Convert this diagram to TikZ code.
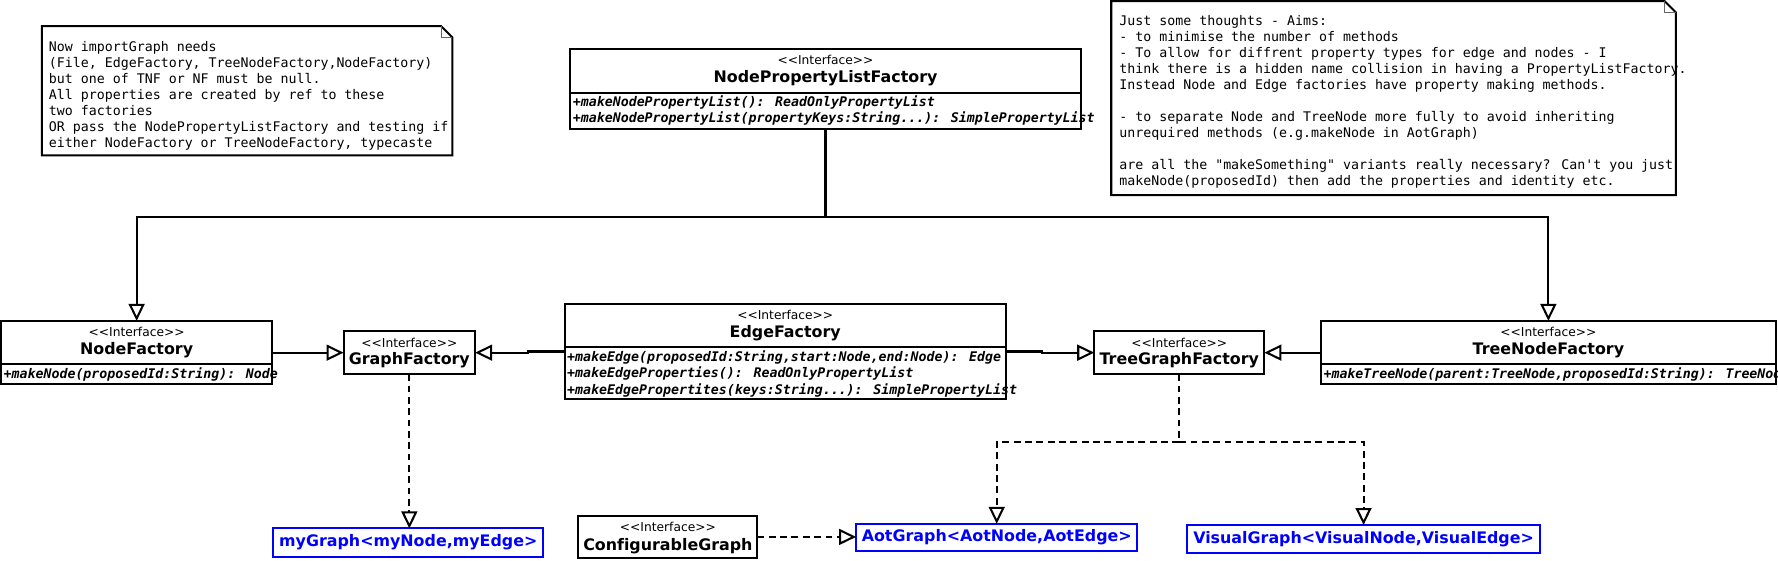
\documentclass[tikz,border=0pt]{standalone}
\usepackage{fontspec}
\usetikzlibrary{arrows.meta}
\newfontfamily\umlmono[Ligatures=TeXOff]{DejaVu Sans Mono}
\newfontfamily\umlsans[Ligatures={TeXOff,CommonOff}]{DejaVu Sans}
\definecolor{umlblue}{RGB}{0,0,255}
\tikzset{
  box/.style={draw, line width=1.8pt, outer sep=0pt, inner sep=0pt, anchor=north west},
  bluebox/.style={box, draw=umlblue, text=umlblue, anchor=north west, font=\umlsans\bfseries\fontsize{14}{16}\selectfont},
  stereo/.style={inner sep=0pt, font=\umlsans\fontsize{10.8}{12}\selectfont},
  cname/.style={inner sep=0pt, font=\umlsans\bfseries\fontsize{14}{16}\selectfont},
  meth/.style={inner sep=0pt, anchor=base west, font=\umlmono\bfseries\itshape\fontsize{11.7}{14}\selectfont},
  notetext/.style={inner sep=0pt, anchor=north west, align=left, font=\umlmono\fontsize{11.7}{14.1}\selectfont},
  sepline/.style={line width=1.8pt},
  conn/.style={line width=1.8pt},
  dconn/.style={conn, dash pattern=on 6pt off 4pt},
  tri/.style={-{Triangle[open,length=15pt,width=14pt,fill=white]}},
  notebody/.style={draw, line width=1.8pt, fill=white},
  fold/.style={draw, line width=0.9pt, draw=black!60},
}
\begin{document}
\begin{tikzpicture}[x=1pt,y=-1pt]
\useasboundingbox (0,0) rectangle (1568,494);
\clip (0,0) rectangle (1568,494);
\fill[white] (0,0) rectangle (1568,494);

% ---------- note 1 ----------
\path[notebody] (37,23) -- (389,23) -- (399,33) -- (399,137) -- (37,137) -- cycle;
\path[fold] (389,23) -- (389,33) -- (399,33);
\node[notetext] (note1) at (43,35) {\rule{0pt}{10pt}Now importGraph needs\\
(File, EdgeFactory, TreeNodeFactory,NodeFactory)\\
but one of TNF or NF must be null.\\
All properties are created by ref to these\\
two factories\\
OR pass the NodePropertyListFactory and testing if\\
either NodeFactory or TreeNodeFactory, typecaste};

% ---------- note 2 ----------
\path[notebody] (980,1) -- (1468,1) -- (1478,11) -- (1478,172) -- (980,172) -- cycle;
\path[fold] (1468,1) -- (1468,11) -- (1478,11);
\node[notetext] (note2) at (987,12) {\rule{0pt}{10pt}Just some thoughts - Aims:\\
- to minimise the number of methods\\
- To allow for diffrent property types for edge and nodes - I\\
think there is a hidden name collision in having a PropertyListFactory.\\
Instead Node and Edge factories have property making methods.\\
\mbox{}\\
- to separate Node and TreeNode more fully to avoid inheriting\\
unrequired methods (e.g.makeNode in AotGraph)\\
\mbox{}\\
are all the \textquotedbl makeSomething\textquotedbl{} variants really necessary? Can\textquotesingle t you just\\
makeNode(proposedId) then add the properties and identity etc.};

% ---------- NodePropertyListFactory ----------
\node[box, minimum width=450pt, minimum height=71pt] (nplf) at (503,43) {};
\node[stereo] (nplfs) at (728,53) {<<Interface>>};
\node[cname] (nplfn) at (728,69) {NodePropertyListFactory};
\draw[sepline] (503,82) -- (953,82);
\node[meth] (nplfm1) at (505,94) {+makeNodePropertyList(): ReadOnlyPropertyList};
\node[meth] (nplfm2) at (505,108) {+makeNodePropertyList(propertyKeys:String...): SimplePropertyList};

% ---------- NodeFactory ----------
\node[box, minimum width=239pt, minimum height=56pt] (nf) at (1,283) {};
\node[stereo] (nfs) at (120.5,293) {<<Interface>>};
\node[cname] (nfn) at (120.5,309) {NodeFactory};
\draw[sepline] (1,321) -- (240,321);
\node[meth] (nfm1) at (3,334) {+makeNode(proposedId:String): Node};

% ---------- GraphFactory ----------
\node[box, minimum width=116pt, minimum height=38pt] (gf) at (303,292) {};
\node[stereo] (gfs) at (361,302) {<<Interface>>};
\node[cname] (gfn) at (361,318) {GraphFactory};

% ---------- EdgeFactory ----------
\node[box, minimum width=389pt, minimum height=84pt] (ef) at (498,268) {};
\node[stereo] (efs) at (692.5,278) {<<Interface>>};
\node[cname] (efn) at (692.5,294) {EdgeFactory};
\draw[sepline] (498,306) -- (887,306);
\node[meth] (efm1) at (500,319) {+makeEdge(proposedId:String,start:Node,end:Node): Edge};
\node[meth] (efm2) at (500,333) {+makeEdgeProperties(): ReadOnlyPropertyList};
\node[meth] (efm3) at (500,348) {+makeEdgePropertites(keys:String...): SimplePropertyList};

% ---------- TreeGraphFactory ----------
\node[box, minimum width=150pt, minimum height=38pt] (tgf) at (965,292) {};
\node[stereo] (tgfs) at (1040,302) {<<Interface>>};
\node[cname] (tgfn) at (1040,318) {TreeGraphFactory};

% ---------- TreeNodeFactory ----------
\node[box, minimum width=401pt, minimum height=56pt] (tnf) at (1165,283) {};
\node[stereo] (tnfs) at (1365.5,293) {<<Interface>>};
\node[cname] (tnfn) at (1365.5,309) {TreeNodeFactory};
\draw[sepline] (1165,321) -- (1566,321);
\node[meth] (tnfm1) at (1167,334) {+makeTreeNode(parent:TreeNode,proposedId:String): TreeNode};

% ---------- bottom row ----------
\node[bluebox, minimum width=238pt, minimum height=25pt] (myg) at (241,466) {myGraph<myNode,myEdge>};
\node[box, minimum width=158pt, minimum height=37pt] (cg) at (510,455) {};
\node[stereo] (cgs) at (589,465) {<<Interface>>};
\node[cname] (cgn) at (589,482) {ConfigurableGraph};
\node[bluebox, minimum width=248pt, minimum height=24pt] (aot) at (755,462) {AotGraph<AotNode,AotEdge>};
\node[bluebox, minimum width=311pt, minimum height=25pt] (vis) at (1047,463) {VisualGraph<VisualNode,VisualEdge>};

% ---------- connectors ----------
\coordinate (bus) at (0,191);
\coordinate (dbus) at (0,390);
\draw[conn, tri] (nplf.south) -- (nplf.south |- bus) -| (nf.north);
\draw[conn, tri] (nplf.south |- bus) -| (tnf.north);
\draw[conn, tri] (nf.east) -- (gf.west);
\draw[conn, tri] (ef.west) -- ++(-32,0) |- (gf.east);
\draw[conn, tri] (ef.east) -- ++(32,0) |- (tgf.west);
\draw[conn, tri] (tnf.west) -- (tgf.east);
\draw[dconn, tri] (gf.south) -- (gf.south |- myg.north);
\draw[dconn, tri] (tgf.south) -- (tgf.south |- dbus) -| (aot.north);
\draw[dconn, tri] (tgf.south |- dbus) -| (vis.north);
\draw[dconn, tri] (cg.east) -- (cg.east -| aot.west);
\end{tikzpicture}
\end{document}
